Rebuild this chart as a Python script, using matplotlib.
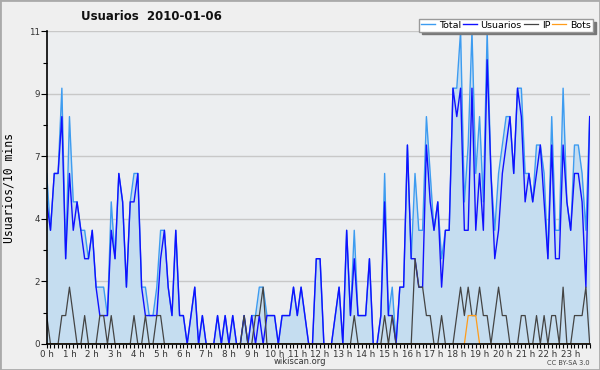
import numpy as np
import matplotlib.pyplot as plt
from matplotlib.patches import Rectangle

# Usuarios por intervalos de 10 minutos (144 puntos = 24 h)
usuarios = [5, 4, 6, 6, 8, 3, 6, 4, 5, 4,
            3, 3, 4, 2, 1, 1, 1, 4, 3, 6,
            5, 2, 5, 5, 6, 2, 1, 1, 1, 1,
            3, 4, 2, 1, 4, 1, 1, 0, 1, 2,
            0, 1, 0, 0, 0, 1, 0, 1, 0, 1,
            0, 0, 1, 0, 1, 0, 1, 0, 1, 1,
            1, 0, 1, 1, 1, 2, 1, 2, 1, 0,
            0, 3, 3, 0, 0, 0, 1, 2, 0, 4,
            1, 3, 1, 1, 1, 3, 0, 0, 1, 5,
            1, 1, 0, 2, 2, 7, 3, 3, 2, 2,
            7, 5, 4, 5, 2, 4, 4, 9, 8, 9,
            4, 4, 9, 4, 6, 4, 10, 6, 3, 4,
            6, 7, 8, 6, 9, 8, 5, 6, 5, 6,
            7, 5, 3, 7, 3, 3, 7, 5, 4, 6,
            6, 5, 2, 8]

total = [6, 4, 6, 6, 9, 3, 8, 5, 5, 4,
         4, 3, 4, 2, 2, 2, 1, 5, 3, 6,
         5, 2, 5, 6, 6, 2, 2, 1, 1, 2,
         4, 4, 2, 1, 4, 1, 1, 0, 1, 2,
         0, 1, 0, 0, 0, 1, 0, 1, 0, 1,
         0, 0, 1, 0, 1, 1, 2, 2, 1, 1,
         1, 0, 1, 1, 1, 2, 1, 2, 1, 0,
         0, 3, 3, 0, 0, 0, 1, 2, 0, 4,
         1, 4, 1, 1, 1, 3, 0, 0, 1, 6,
         1, 2, 0, 2, 2, 7, 3, 6, 4, 4,
         8, 6, 4, 5, 3, 4, 4, 9, 9, 11,
         5, 7, 11, 6, 8, 5, 11, 6, 4, 6,
         7, 8, 8, 6, 9, 9, 6, 6, 5, 7,
         7, 6, 3, 8, 4, 4, 9, 5, 4, 7,
         7, 6, 4, 8]

ip = [1, 0, 0, 0, 1, 1, 2, 1, 0, 0,
      1, 0, 0, 0, 1, 1, 0, 1, 0, 0,
      0, 0, 0, 1, 0, 0, 1, 0, 0, 1,
      1, 0, 0, 0, 0, 0, 0, 0, 0, 0,
      0, 0, 0, 0, 0, 0, 0, 0, 0, 0,
      0, 0, 1, 0, 0, 1, 1, 2, 0, 0,
      0, 0, 0, 0, 0, 0, 0, 0, 0, 0,
      0, 0, 0, 0, 0, 0, 0, 0, 0, 0,
      0, 1, 0, 0, 0, 0, 0, 0, 0, 1,
      0, 1, 0, 0, 0, 0, 0, 3, 2, 2,
      1, 1, 0, 0, 1, 0, 0, 0, 1, 2,
      1, 2, 1, 1, 2, 1, 1, 0, 1, 2,
      1, 1, 0, 0, 0, 1, 1, 0, 0, 1,
      0, 1, 0, 1, 1, 0, 2, 0, 0, 1,
      1, 1, 2, 0]

bots = [0] * 111 + [1, 1, 1] + [0] * 30

horas = [f"{h} h" for h in range(24)]

x = np.arange(len(total))

fig = plt.figure(figsize=(6, 3.7), dpi=100, facecolor='#efefef')
ax = fig.add_axes([0.0778, 0.0703, 0.905, 0.845])
ax.set_facecolor('#eceef0')

ax.fill_between(x, total, 0, color='#c5ddf0', lw=0)
ax.plot(x, total, color='#3d9cf0', lw=1.0, label='Total')
ax.plot(x, usuarios, color='#1010ff', lw=1.0, label='Usuarios')
ax.plot(x, ip, color='#444444', lw=0.9, label='IP')
ax.plot(x, bots, color='#ff9c1a', lw=0.9, label='Bots')

ax.set_xlim(0, len(total) - 1)
ax.set_ylim(0, 11)

yt = np.linspace(0, 11, 6)
ax.set_yticks(yt)
ax.set_yticklabels([f"{v:.0f}" for v in yt])
ax.set_yticks(np.linspace(0, 11, 11), minor=True)
ax.yaxis.grid(True, color='#c8c8c8', lw=1)
ax.set_axisbelow(True)

ax.set_xticks(np.arange(0, 144, 6))
ax.set_xticklabels(horas)
ax.set_xticks(x, minor=True)

ax.tick_params(axis='both', which='major', labelsize=6.3, labelcolor='#333333',
               color='black', length=4, width=0.8, pad=1)
ax.tick_params(axis='x', which='major', length=3)
ax.tick_params(axis='both', which='minor', length=3, width=0.8, color='black')

for s in ['top', 'right']:
    ax.spines[s].set_visible(False)
for s in ['left', 'bottom']:
    ax.spines[s].set_linewidth(1.2)

ax.set_ylabel('Usuarios/10 mins', family='DejaVu Sans Mono', fontsize=8.3)
ax.yaxis.set_label_coords(-0.058, 0.5)

fig.text(0.252, 0.955, 'Usuarios  2010-01-06', ha='center', va='center',
         fontsize=8.5, fontweight='bold', color='#111111')

leg = ax.legend(ncol=4, loc='upper right', bbox_to_anchor=(0.988, 0.949),
                bbox_transform=fig.transFigure, fontsize=6.8, frameon=True,
                fancybox=False, shadow={'color': '#777777', 'alpha': 1},
                handlelength=1.5, handletextpad=0.4, columnspacing=0.2,
                borderpad=0.2, borderaxespad=0)
leg.get_frame().set_edgecolor('#999999')
leg.get_frame().set_linewidth(1.0)

fig.text(0.5, 0.022, 'wikiscan.org', ha='center', va='center', fontsize=6, color='#333333')
fig.text(0.983, 0.02, 'CC BY-SA 3.0', ha='right', va='center', fontsize=4.8, color='#444444')

fig.patches.append(Rectangle((0, 0), 1, 1, transform=fig.transFigure, fill=False,
                             edgecolor='#aaaaaa', lw=2))

fig.savefig('out.png', dpi=100, facecolor=fig.get_facecolor())
